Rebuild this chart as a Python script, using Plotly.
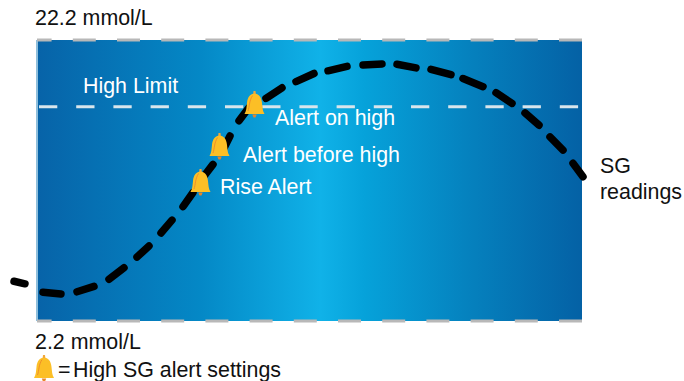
import plotly.graph_objects as go

# SG readings, one pair of points per drawn stroke: position on the time scale, level in mmol/L
sg_x = [14, 25, None, 43, 61, None, 77, 94, None, 109, 124, None, 137, 149, None, 161, 172, None,
        183, 193, None, 202, 213, None, 223, 230, None, 239, 249, None, 266, 282, None, 296, 314, None,
        328, 347, None, 363, 382, None, 397, 416, None, 431, 451, None, 463, 483, None, 496, 512, None,
        525, 539, None, 550, 563, None, 573, 583]
sg_y = [5.03, 4.85, None, 4.25, 4.13, None, 4.28, 4.67, None, 5.17, 5.99, None, 6.75, 7.54, None, 8.47, 9.38, None,
        10.34, 11.35, None, 12.32, 13.35, None, 14.37, 15.37, None, 16.46, 17.4, None, 18.05, 18.8, None, 19.24, 19.82, None,
        20.01, 20.33, None, 20.42, 20.49, None, 20.48, 20.22, None, 20.12, 19.73, None, 19.46, 18.88, None, 18.45, 17.69, None,
        17.01, 16.14, None, 15.3, 14.37, None, 13.43, 12.47]

band_x = [37, 582]
y_low = 2.2
y_high = 22.2
high_limit = 17.46

bell_x = [254.5, 219.5, 200.5, 44]
bell_y = [16.93, 13.94, 11.38, -1.86]

label_text = ["22.2 mmol/L", "2.2 mmol/L", "High SG alert settings", "=", "High Limit",
              "Alert on high", "Alert before high", "Rise Alert", "SG", "readings"]
label_x = [35, 35, 73, 58, 83, 275, 243, 220, 600, 600]
label_y = [23.74, 0.71, -1.29, -1.29, 18.92, 16.65, 14.01, 11.74, 13.23, 11.38]
label_color = ["#111111", "#111111", "#111111", "#111111", "#ffffff", "#ffffff", "#ffffff", "#ffffff", "#111111", "#111111"]

fig = go.Figure()

# gradient band
fig.add_trace(go.Scatter(
    x=[band_x[0], band_x[1], band_x[1], band_x[0], band_x[0]],
    y=[y_low, y_low, y_high, y_high, y_low],
    mode="lines", line=dict(width=0), fill="toself",
    fillgradient=dict(type="horizontal", colorscale=[
        [0, "#0763a8"], [0.3, "#0488c6"], [0.52, "#10b2e8"], [0.6, "#06a2da"], [0.8, "#0580bd"], [1, "#0461a5"]]),
    hoverinfo="skip", showlegend=False))

# left edge
fig.add_trace(go.Scatter(x=[band_x[0], band_x[0]], y=[y_low, y_high], mode="lines",
                         line=dict(color="#8fbfdc", width=2), showlegend=False, hoverinfo="skip"))

# top and bottom limits, drawn right to left so the pattern begins at the right edge
for yv in (y_high, y_low):
    fig.add_trace(go.Scatter(x=band_x[::-1], y=[yv, yv], mode="lines",
                             line=dict(color="#b8b8b8", width=3, dash="23px,21.2px"),
                             showlegend=False, hoverinfo="skip"))

# high limit
fig.add_trace(go.Scatter(x=[band_x[0] + 2, band_x[1]], y=[high_limit, high_limit], mode="lines",
                         line=dict(color="#d8e5ec", width=3, dash="18.3px,18.9px"),
                         showlegend=False, hoverinfo="skip"))

# SG trace
fig.add_trace(go.Scatter(x=sg_x, y=sg_y, mode="lines", connectgaps=False,
                         line=dict(color="#000000", width=7.5),
                         showlegend=False, hoverinfo="skip", name="sg"))

bell_parts = [
    ("M -10 0 L 10 0 C 8 3 8 7 7.5 11 C 7 17 4 20.5 0 20.5 C -4 20.5 -7 17 -7.5 11 C -8 7 -8 3 -10 0 Z",
     "#fcbf26", dict(width=0)),
    ("M -1.3 20 L 1.3 20 L 1 23 L -1 23 Z", "#f2a93a", dict(width=0)),
    ("M -2.2 -0.5 L 2.2 -0.5 L 1 -3.5 L -1 -3.5 Z", "#e8862a", dict(width=0)),
    ("M -6.5 3 C -5 7 -5.5 13 -2 18.5", "rgba(0,0,0,0)", dict(color="#ef8f2a", width=1)),
]
shapes = []
for bx, by in zip(bell_x, bell_y):
    for path, fill, line in bell_parts:
        shapes.append(dict(type="path", xref="x", yref="y", xsizemode="pixel", ysizemode="pixel",
                           xanchor=bx, yanchor=by, path=path,
                           fillcolor=fill, line=line, layer="above"))

annotations = [dict(x=x, y=y, text=t, xref="x", yref="y", xanchor="left", yanchor="middle",
                    showarrow=False, xshift=-2, font=dict(family="Liberation Sans, Arial", size=21.4, color=c))
               for t, x, y, c in zip(label_text, label_x, label_y, label_color)]

fig.update_layout(
    width=684, height=381, margin=dict(l=0, r=0, t=0, b=0),
    paper_bgcolor="white", plot_bgcolor="white",
    xaxis=dict(range=[0, 684], visible=False, fixedrange=True),
    yaxis=dict(range=[-2.07, 25.05], visible=False, fixedrange=True),
    shapes=shapes, annotations=annotations, showlegend=False,
)

page_fixes = """
document.body.style.margin = '0';
document.body.style.overflow = 'hidden';
var el = document.querySelectorAll('.scatterlayer .trace');
var last = el[el.length - 1];
last.querySelectorAll('path').forEach(function (p) { p.style.strokeLinecap = 'round'; });
"""
fig.write_html("out.html", post_script=page_fixes, config={"displayModeBar": False})
